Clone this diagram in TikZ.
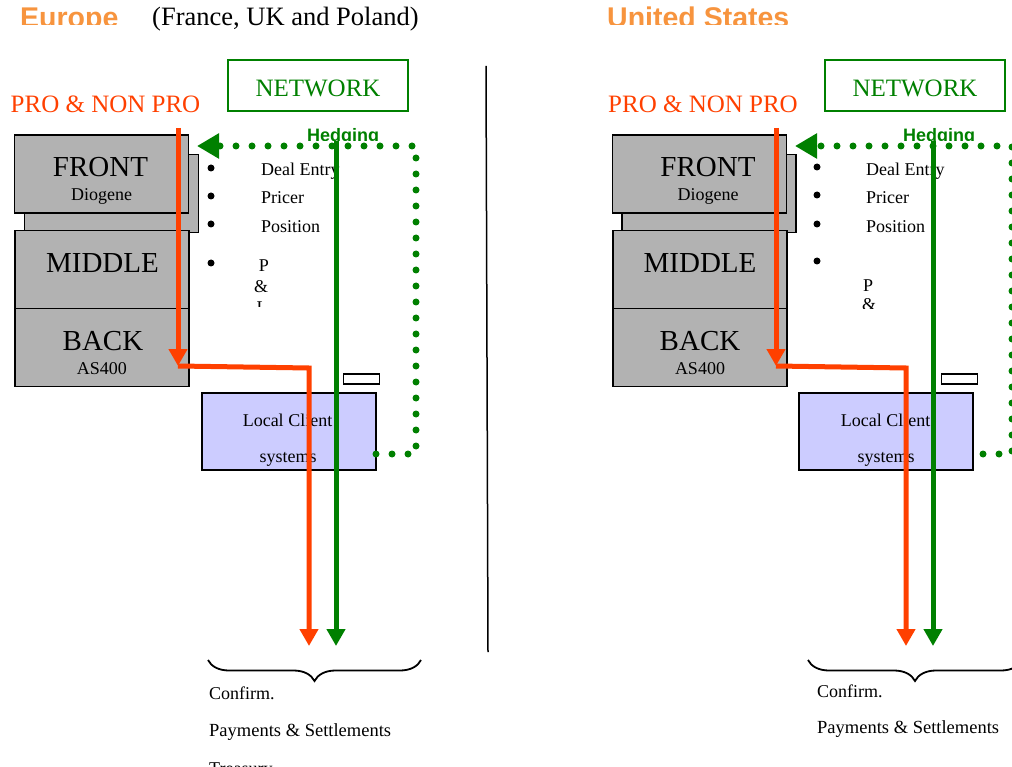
\documentclass[tikz,border=0pt]{standalone}
\usepackage{fontspec}
\setmainfont{Liberation Serif}
\newfontfamily\headfont{Liberation Sans}
\usetikzlibrary{arrows.meta,positioning,decorations.pathreplacing}

\definecolor{flowred}{RGB}{255,64,0}
\definecolor{flowgreen}{RGB}{0,128,0}
\definecolor{titleorange}{RGB}{247,148,62}
\definecolor{tiergray}{RGB}{178,178,178}
\definecolor{localblue}{RGB}{204,204,255}

\tikzset{
    tierbox/.style={draw, line width=1.6pt, fill=tiergray, inner sep=0pt,
        minimum width=174pt, minimum height=78pt},
    tierbig/.style={font=\fontsize{29}{34}\selectfont, anchor=base, inner sep=0pt},
    tiersmall/.style={font=\fontsize{18}{21}\selectfont, anchor=base, inner sep=0pt},
    netbox/.style={draw=flowgreen, line width=1.8pt, text=flowgreen,
        minimum width=180pt, minimum height=51pt, inner sep=0pt,
        text height=23pt, text depth=0pt, font=\fontsize{25}{30}\selectfont},
    protext/.style={text=flowred, font=\fontsize{25}{30}\selectfont, anchor=base, inner sep=0pt},
    region/.style={text=titleorange, font=\headfont\bfseries\fontsize{28.5}{34}\selectfont,
        anchor=base west, inner sep=0pt},
    hedge/.style={text=flowgreen, font=\headfont\bfseries\fontsize{18}{22}\selectfont,
        anchor=base west, inner sep=0pt},
    item/.style={font=\fontsize{18}{21}\selectfont, anchor=base west, inner sep=0pt},
    bulletdot/.style={circle, fill, inner sep=0pt, minimum size=7pt},
    localbox/.style={draw, line width=1.6pt, fill=localblue, inner sep=0pt,
        minimum width=174pt, minimum height=77pt},
    slot/.style={draw, line width=1.6pt, fill=white, inner sep=0pt,
        minimum width=36pt, minimum height=10pt},
    redflow/.style={draw=flowred, line width=5pt, line join=miter,
        -{Triangle[width=18pt,length=17pt]}},
    greenflow/.style={draw=flowgreen, line width=5pt, -{Triangle[width=18pt,length=17pt]}},
    hedgeflow/.style={draw=flowgreen, line width=7pt, line cap=round,
        dash pattern=on 0pt off 16pt, -{Triangle[width=24pt,length=22pt]}},
    outbrace/.style={decorate, decoration={brace, mirror, amplitude=21pt}, line width=1.8pt}
}

\begin{document}
\begin{tikzpicture}[x=1pt, y=-1pt]
    \useasboundingbox (0,0) rectangle (1012,767);

    % titles
    \begin{scope}
        \clip (0,0) rectangle (1012,25);
        \node [region] (eu) at (20,28) {Europe};
        \node [region] (us) at (607,28) {United States};
    \end{scope}
    \node [item, font=\fontsize{26.5}{31}\selectfont] (eusub) at (152,26) {(France, UK and Poland)};

    % Europe
    \node [netbox] (net1) at (318,85.5) {NETWORK};
    \node [protext] (pro1) at (105.5,113) {PRO \& NON PRO};

    \node [tierbox] (shadow1) at (111.5,193.5) {};
    \node [tierbox] (front1) at (101.5,174) {};
    \node [tierbox] (mid1) at (102,269.5) {};
    \node [tierbox] (back1) at (102,347.5) {};
    \node [tierbig] (fronttxt1) at (100.5,177) {FRONT};
    \node [tiersmall] (frontsub1) at (101.5,201) {Diogene};
    \node [tierbig] (midtxt1) at (102.5,273) {MIDDLE};
    \node [tierbig] (backtxt1) at (103,350) {BACK};
    \node [tiersmall] (backsub1) at (102,374) {AS400};

    \node [bulletdot] (b11) at (211,168) {};
    \node [bulletdot] (b12) at (211,196) {};
    \node [bulletdot] (b13) at (211,224) {};
    \node [bulletdot] (b14) at (211,263) {};
    \node [item] (deal1) at (261,176) {Deal Entry};
    \node [item] (price1) at (261,204) {Pricer};
    \node [item] (pos1) at (261,233) {Position};
    \begin{scope}
        \clip (0,0) rectangle (1012,307);
        \node [tiersmall] (pl1a) at (264,272) {P};
        \node [tiersmall] (pl1b) at (261,293) {\&};
        \node [tiersmall] (pl1c) at (262,314) {L};
    \end{scope}

    \node [slot] (slot1) at (361.5,379) {};
    \node [localbox] (loc1) at (289,431.5) {};
    \node [tiersmall] (loctxt1) at (287.5,426) {Local Client};
    \node [tiersmall] (locsub1) at (288,462) {systems};

    \coordinate (dstart1) at (376,454);
    \coordinate (dcorner1) at (416,454);
    \coordinate (dtop1) at (416,146);
    \coordinate (dtip1) at (197,146);
    \draw [hedgeflow] (dstart1) -- (dcorner1) -- (dtop1) -- (dtip1);
    \begin{scope}
        \clip (0,0) rectangle (1012,141);
        \node [hedge] (hedge1) at (307,142) {Hedging};
    \end{scope}

    \coordinate (rin1) at (178,128);
    \coordinate (rbend1) at (178,366);
    \coordinate (rturn1) at (309,368);
    \coordinate (rout1) at (309,646);
    \draw [redflow] (rin1) -- (rbend1);
    \draw [redflow] (rbend1) -- (rturn1) -- (rout1);
    \coordinate (gin1) at (336,141);
    \coordinate (gout1) at (336,646);
    \draw [greenflow] (gin1) -- (gout1);

    \coordinate (bl1) at (208,660);
    \coordinate (br1) at (421,660);
    \draw [outbrace] (bl1) -- (br1);
    \node [item] (conf1) at (209,699) {Confirm.};
    \node [item, font=\fontsize{18.5}{22}\selectfont] (pay1) at (209,736) {Payments \& Settlements};
    \node [item] (treas1) at (209,774) {Treasury};

    % split
    \coordinate (splittop) at (486,66);
    \coordinate (splitbot) at (488,652);
    \draw [line width=1.5pt] (splittop) -- (splitbot);

    % United States
    \node [netbox] (net2) at (915,85.5) {NETWORK};
    \node [protext] (pro2) at (703,113) {PRO \& NON PRO};

    \node [tierbox] (shadow2) at (709,193.5) {};
    \node [tierbox] (front2) at (699.5,174) {};
    \node [tierbox] (mid2) at (700,269.5) {};
    \node [tierbox] (back2) at (700,347.5) {};
    \node [tierbig] (fronttxt2) at (708,177) {FRONT};
    \node [tiersmall] (frontsub2) at (708,201) {Diogene};
    \node [tierbig] (midtxt2) at (700,273) {MIDDLE};
    \node [tierbig] (backtxt2) at (700,350) {BACK};
    \node [tiersmall] (backsub2) at (700,374) {AS400};

    \node [bulletdot] (b21) at (817,167) {};
    \node [bulletdot] (b22) at (817,195) {};
    \node [bulletdot] (b23) at (817,224) {};
    \node [bulletdot] (b24) at (817,261) {};
    \node [item] (deal2) at (866,176) {Deal Entry};
    \node [item] (price2) at (866,204) {Pricer};
    \node [item] (pos2) at (866,233) {Position};
    \begin{scope}
        \clip (0,0) rectangle (1012,309);
        \node [tiersmall] (pl2a) at (868,292) {P};
        \node [tiersmall] (pl2b) at (869,311) {\&};
    \end{scope}

    \node [slot] (slot2) at (959.5,379) {};
    \node [localbox] (loc2) at (886,431.5) {};
    \node [tiersmall] (loctxt2) at (885.5,426) {Local Client};
    \node [tiersmall] (locsub2) at (886,462) {systems};

    \coordinate (dstart2) at (983,454);
    \coordinate (dcorner2) at (1012,454);
    \coordinate (dtop2) at (1012,146);
    \coordinate (dtip2) at (795,146);
    \draw [hedgeflow] (dstart2) -- (dcorner2) -- (dtop2) -- (dtip2);
    \begin{scope}
        \clip (0,0) rectangle (1012,141);
        \node [hedge] (hedge2) at (903,142) {Hedging};
    \end{scope}

    \coordinate (rin2) at (776,128);
    \coordinate (rbend2) at (776,366);
    \coordinate (rturn2) at (906,368);
    \coordinate (rout2) at (906,646);
    \draw [redflow] (rin2) -- (rbend2);
    \draw [redflow] (rbend2) -- (rturn2) -- (rout2);
    \coordinate (gin2) at (933,141);
    \coordinate (gout2) at (933,646);
    \draw [greenflow] (gin2) -- (gout2);

    \coordinate (bl2) at (808,660);
    \coordinate (br2) at (1022,660);
    \draw [outbrace] (bl2) -- (br2);
    \node [item] (conf2) at (817,697) {Confirm.};
    \node [item, font=\fontsize{18.5}{22}\selectfont] (pay2) at (817,733) {Payments \& Settlements};
\end{tikzpicture}
\end{document}
